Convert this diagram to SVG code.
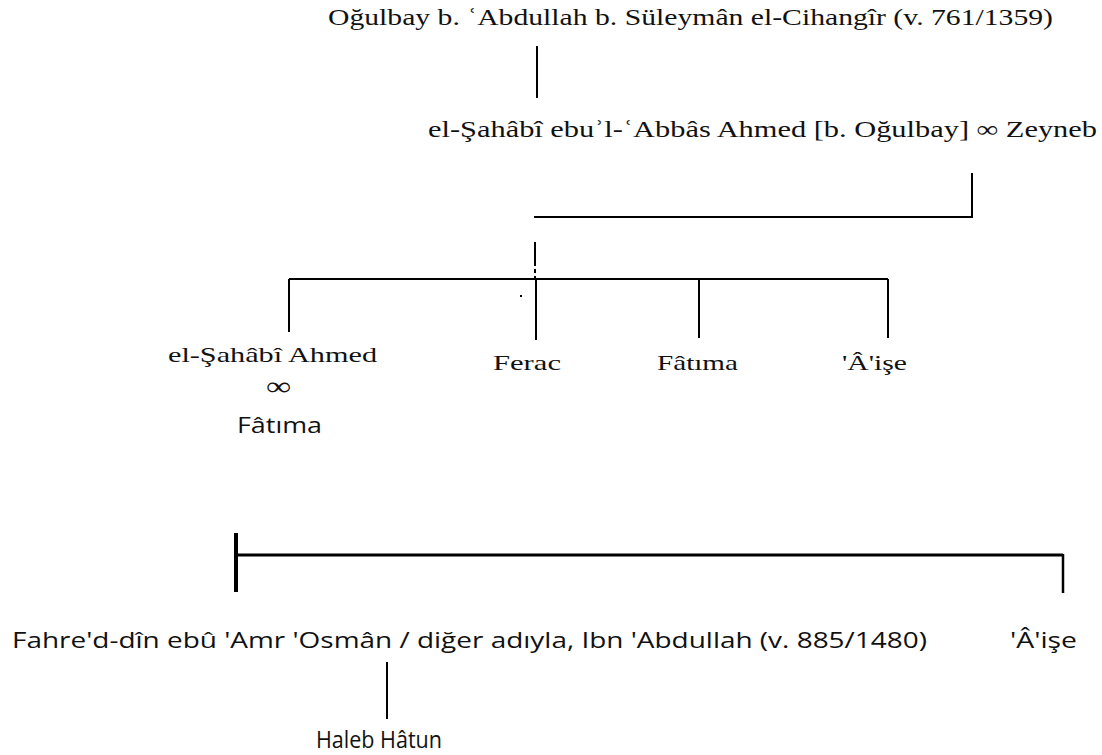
<svg xmlns="http://www.w3.org/2000/svg" width="1102" height="755" viewBox="0 0 1102 755">
<style>
.serif{font-family:"Liberation Serif","Times New Roman",serif;font-size:22px;fill:#111}
.big{font-size:23px}
.sans{font-family:"Open Sans","Noto Sans","Liberation Sans",sans-serif;font-size:21px;fill:#111}
.ln{stroke:#000;stroke-width:2;fill:none}
</style>
<rect width="1102" height="755" fill="#fff"/>
<g id="connectors">
<line class="ln" x1="537" y1="46" x2="537" y2="98"/>
<polyline class="ln" points="534,217 972,217 972,173"/>
<line class="ln" x1="535" y1="242" x2="535" y2="262"/>
<line class="ln" x1="535" y1="262" x2="535" y2="278" stroke-dasharray="4,3"/>
<line class="ln" x1="289" y1="279" x2="888" y2="279"/>
<line class="ln" x1="289" y1="279" x2="289" y2="332"/>
<line class="ln" x1="536" y1="279" x2="536" y2="340"/>
<line class="ln" x1="699" y1="279" x2="699" y2="338"/>
<line class="ln" x1="888" y1="279" x2="888" y2="338"/>
<rect x="520" y="295" width="2" height="2" fill="#000"/>
<line class="ln" x1="236" y1="555" x2="1063" y2="555" style="stroke-width:3"/>
<line class="ln" x1="236" y1="533" x2="236" y2="592" style="stroke-width:4"/>
<line class="ln" x1="1063" y1="554" x2="1063" y2="593" style="stroke-width:2.5"/>
<line class="ln" x1="387" y1="662" x2="387" y2="719"/>
</g>
<g id="n-ogulbay"><text class="serif big" x="328" y="25" textLength="725" lengthAdjust="spacingAndGlyphs">Oğulbay b. ʿAbdullah b. Süleymân el-Cihangîr (v. 761/1359)</text></g>
<g id="n-sahabi-abbas"><text class="serif big" x="428" y="137" textLength="669" lengthAdjust="spacingAndGlyphs">el-Şahâbî ebuʾl-ʿAbbâs Ahmed [b. Oğulbay] ∞ Zeyneb</text></g>
<g id="n-sahabi-ahmed">
<text class="serif" x="168" y="362" textLength="209" lengthAdjust="spacingAndGlyphs">el-Şahâbî Ahmed</text>
<text class="serif" x="266" y="395" style="font-size:26px" textLength="25" lengthAdjust="spacingAndGlyphs">∞</text>
<text class="sans" x="237" y="433" style="font-size:22px" textLength="85" lengthAdjust="spacingAndGlyphs">Fâtıma</text>
</g>
<g id="n-ferac"><text class="serif" x="493" y="370" textLength="68" lengthAdjust="spacingAndGlyphs">Ferac</text></g>
<g id="n-fatima"><text class="serif" x="657" y="370" textLength="81" lengthAdjust="spacingAndGlyphs">Fâtıma</text></g>
<g id="n-aise1"><text class="serif" x="842" y="370" textLength="65" lengthAdjust="spacingAndGlyphs">'Â'işe</text></g>
<g id="n-fahreddin"><text class="sans" x="12" y="648" textLength="915" lengthAdjust="spacingAndGlyphs">Fahre'd-dîn ebû 'Amr 'Osmân / diğer adıyla, Ibn 'Abdullah (v. 885/1480)</text></g>
<g id="n-aise2"><text class="sans" x="1010" y="648" textLength="67" lengthAdjust="spacingAndGlyphs">'Â'işe</text></g>
<g id="n-haleb"><text class="sans" x="316" y="748" style="font-size:23px" textLength="126" lengthAdjust="spacingAndGlyphs">Haleb Hâtun</text></g>
</svg>
